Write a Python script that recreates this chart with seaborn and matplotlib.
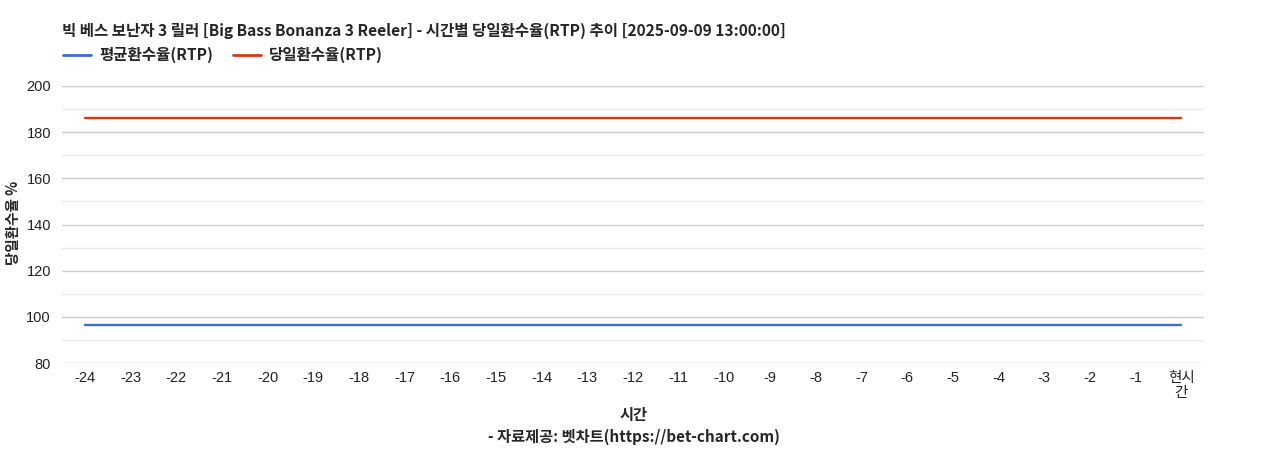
import numpy as np
import pandas as pd
import matplotlib
matplotlib.use('Agg')
import matplotlib.pyplot as plt
from matplotlib.ticker import MultipleLocator
import seaborn as sns

sns.set_style('white')
plt.rcParams['font.family'] = ['Noto Sans CJK KR', 'DejaVu Sans']

# 데이터
hours = ['-24', '-23', '-22', '-21', '-20', '-19', '-18', '-17', '-16', '-15', '-14', '-13',
         '-12', '-11', '-10', '-9', '-8', '-7', '-6', '-5', '-4', '-3', '-2', '-1', '현시\n간']
avg_rtp = [96.5] * 25
day_rtp = [186.1] * 25

df = pd.DataFrame({'시간': list(range(len(hours))),
                   '평균환수율(RTP)': avg_rtp,
                   '당일환수율(RTP)': day_rtp})
long = df.melt(id_vars='시간', var_name='구분', value_name='RTP')

fig = plt.figure(figsize=(12.68, 4.5), dpi=100)
ax = fig.add_axes([0.0489, 0.1933, 0.9006, 0.6156])

sns.lineplot(data=long, x='시간', y='RTP', hue='구분',
             palette={'평균환수율(RTP)': '#3c6ccc', '당일환수율(RTP)': '#dc3912'},
             linewidth=1.7, ax=ax, legend=False)

ax.set_xlim(-0.5, len(hours) - 0.5)
ax.set_ylim(80, 200)
ax.yaxis.set_major_locator(MultipleLocator(20))
ax.yaxis.set_minor_locator(MultipleLocator(10))
ax.grid(True, which='major', axis='y', color='#cccccc', linewidth=1)
ax.grid(True, which='minor', axis='y', color='#ebebeb', linewidth=1)
ax.set_axisbelow(True)
for s in ax.spines.values():
    s.set_visible(False)
ax.set_xticks(range(len(hours)))
ax.set_xticklabels(hours, family=['Liberation Sans', 'Noto Sans CJK KR'], fontsize=10.5, color='#222222',
                   linespacing=1.1, va='top')
for t in ax.get_yticklabels():
    t.set_family(['Liberation Sans'])
ax.tick_params(axis='y', labelsize=10.5, labelcolor='#222222', length=0, pad=8)
ax.tick_params(axis='x', length=0, pad=6)
ax.set_xlabel('')
ax.set_ylabel('')
fig.text(0.0105, 0.505, '당일환수율 %', fontsize=10.5, fontweight='bold', rotation=90, ha='center', va='center')

fig.text(0.049, 0.932, '빅 베스 보난자 3 릴러 [Big Bass Bonanza 3 Reeler] - 시간별 당일환수율(RTP) 추이 [2025-09-09 13:00:00]',
         fontsize=11.2, fontweight='bold', va='center', ha='left')

# 범례
fig.lines.append(plt.Line2D([0.050, 0.072], [0.878, 0.878], color='#3c6ccc', linewidth=2, transform=fig.transFigure))
fig.text(0.078, 0.878, '평균환수율(RTP)', fontsize=11.2, fontweight='bold', va='center')
fig.lines.append(plt.Line2D([0.184, 0.206], [0.878, 0.878], color='#dc3912', linewidth=2, transform=fig.transFigure))
fig.text(0.212, 0.878, '당일환수율(RTP)', fontsize=11.2, fontweight='bold', va='center')

fig.text(0.5, 0.078, '시간', fontsize=11, fontweight='bold', ha='center', va='center')
fig.text(0.5, 0.029, '- 자료제공: 벳차트(https://bet-chart.com)', fontsize=11, fontweight='bold', ha='center', va='center')

fig.savefig('out.png', dpi=100)
